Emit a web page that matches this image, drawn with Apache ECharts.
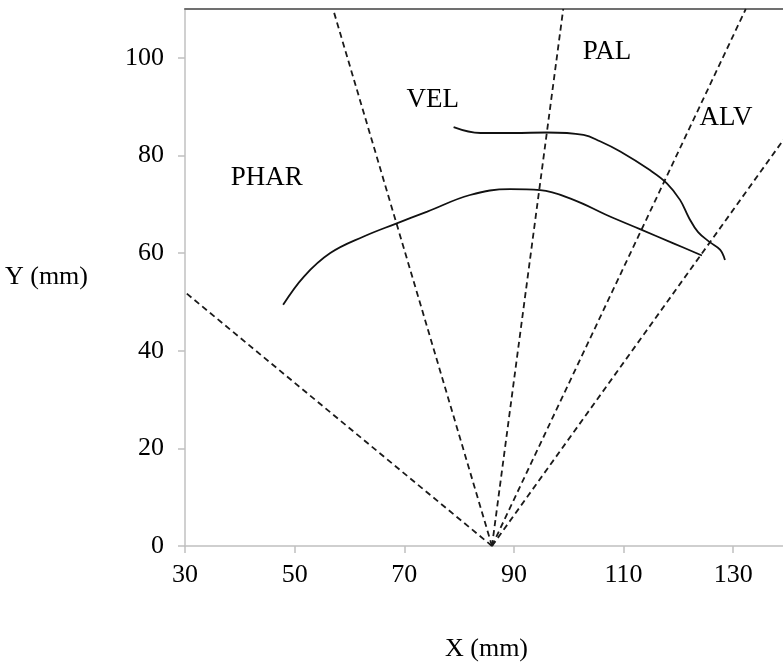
<!DOCTYPE html>
<html>
<head>
<meta charset="utf-8">
<style>
  html, body { margin: 0; padding: 0; background: #fff; }
  #chart { width: 783px; height: 667px; }
</style>
<script src="https://cdn.jsdelivr.net/npm/echarts@6/dist/echarts.min.js"></script>
</head>
<body>
<div id="chart"></div>
<script>
// Lower contour (tongue surface), x/y in mm
const lowerCurve = [
  [47.9, 49.4], [51.7, 55.2], [56.5, 60.0], [62.6, 63.4], [68.4, 66.0],
  [74.2, 68.5], [82.0, 71.9], [89.3, 73.1], [94.8, 72.9], [100.9, 70.9],
  [106.9, 67.8], [113.0, 64.9], [119.1, 62.0], [124.3, 59.5]
];

// Upper contour (palate), x/y in mm
const upperCurve = [
  [79.0, 85.8], [83.9, 84.6], [90.0, 84.6], [96.0, 84.7], [102.7, 84.2],
  [105.7, 82.9], [109.4, 80.8], [114.8, 77.0], [117.9, 74.3], [120.3, 70.9],
  [121.9, 67.3], [123.6, 64.3], [125.8, 62.2], [127.6, 60.7], [128.5, 58.6]
];

// Radial grid lines from the common origin to the plot edges
const gridOrigin = [86, 0];
const gridEnds = [[30, 52], [57, 110], [99, 110], [132.3, 110], [140, 84.5]];

// Region labels and where they sit
const regionNames = ['PHAR', 'VEL', 'PAL', 'ALV'];
const regionPos = [[44.9, 75.4], [75.2, 91.4], [107.0, 101.2], [128.7, 87.7]];

// Axis ranges
const xRange = [30, 140, 20];
const yRange = [0, 110, 20];

const serif = '"Liberation Serif", "DejaVu Serif", serif';
const chart = echarts.init(document.getElementById('chart'));

const rays = gridEnds.map(function (end) {
  return {
    type: 'line',
    data: [gridOrigin, end],
    showSymbol: false,
    silent: true,
    lineStyle: { color: '#1a1a1a', width: 1.8, type: [6, 4] },
    z: 2
  };
});

chart.setOption({
  animation: false,
  grid: { left: 185, right: -5, top: 9, bottom: 121, containLabel: false, outerBoundsMode: 'none' },
  xAxis: [{
    type: 'value',
    min: xRange[0], max: xRange[1], interval: xRange[2],
    position: 'bottom',
    name: 'X (mm)',
    nameLocation: 'middle',
    nameGap: 90,
    nameTextStyle: { fontFamily: serif, fontSize: 26, color: '#000' },
    axisLine: { show: true, onZero: false, lineStyle: { color: '#c0c0c0', width: 1.5 } },
    axisTick: { show: true, length: 7, lineStyle: { color: '#c0c0c0', width: 1.5 } },
    axisLabel: {
      margin: 16, fontFamily: serif, fontSize: 26, color: '#000',
      showMaxLabel: false,
      formatter: function (v) { return v > 135 ? '' : String(v); }
    },
    splitLine: { show: false }
  }, {
    type: 'value',
    min: xRange[0], max: xRange[1],
    position: 'top',
    axisLine: { show: true, onZero: false, lineStyle: { color: '#707070', width: 2 } },
    axisTick: { show: false },
    axisLabel: { show: false },
    splitLine: { show: false }
  }],
  yAxis: {
    type: 'value',
    min: yRange[0], max: yRange[1], interval: yRange[2],
    name: 'Y (mm)',
    nameLocation: 'middle',
    nameRotate: 0,
    nameGap: 97,
    nameTextStyle: { fontFamily: serif, fontSize: 26, color: '#000', align: 'right' },
    axisLine: { show: true, onZero: false, lineStyle: { color: '#c0c0c0', width: 1.5 } },
    axisTick: { show: true, length: 7, lineStyle: { color: '#c0c0c0', width: 1.5 } },
    axisLabel: {
      margin: 21, fontFamily: serif, fontSize: 26, color: '#000',
      showMaxLabel: false,
      formatter: function (v) { return v > 105 ? '' : String(v); }
    },
    splitLine: { show: false }
  },
  series: rays.concat([
    {
      type: 'line',
      data: lowerCurve,
      smooth: 0.4,
      showSymbol: false,
      lineStyle: { color: '#111', width: 1.8 },
      z: 3
    },
    {
      type: 'line',
      data: upperCurve,
      smooth: 0.4,
      showSymbol: false,
      lineStyle: { color: '#111', width: 1.8 },
      z: 3
    },
    {
      type: 'scatter',
      data: regionPos.map(function (p, i) { return { name: regionNames[i], value: p }; }),
      symbolSize: 0,
      silent: true,
      itemStyle: { opacity: 1 },
      label: {
        show: true,
        position: 'inside',
        formatter: '{b}',
        fontFamily: serif,
        fontSize: 27,
        color: '#000',
        opacity: 1,
        textBorderWidth: 0
      },
      z: 4
    }
  ])
});
</script>
</body>
</html>
